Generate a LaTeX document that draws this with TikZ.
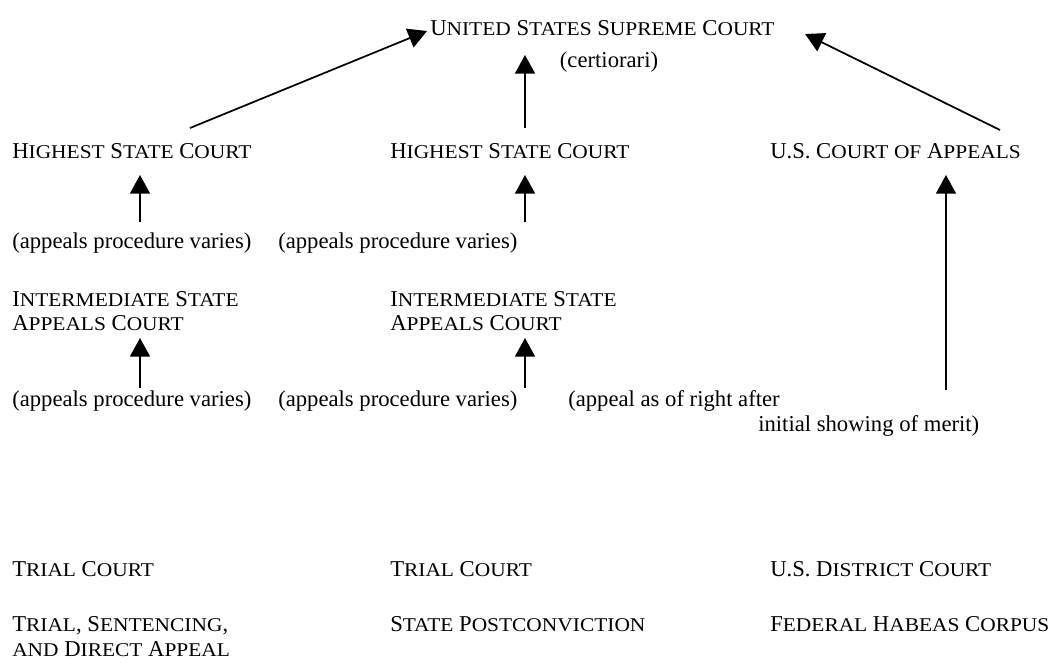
\documentclass[tikz,border=0pt]{standalone}
\usepackage{fontspec}
\setmainfont{Liberation Serif}
\usetikzlibrary{arrows.meta}
\newcommand\smc[1]{\scalebox{1.1}[1]{\fontsize{14.6pt}{14.6pt}\selectfont #1}}
\begin{document}
\begin{tikzpicture}[x=0.75pt,y=-0.75pt,
  lbl/.style={anchor=base west,inner sep=0pt,font=\fontsize{17pt}{25pt}\selectfont},
  arr/.style={line width=1.3pt,-{Triangle[width=15pt,length=14pt]}}]
\useasboundingbox (0,0) rectangle (1054,669);
% top
\node[lbl] (ussc) at (430,35) {U\smc{NITED} S\smc{TATES} S\smc{UPREME} C\smc{OURT}};
\node[lbl,anchor=base] (cert) at (609,67) {(certiorari)};
% row 2
\node[lbl] (hsc1) at (12,158) {H\smc{IGHEST} S\smc{TATE} C\smc{OURT}};
\node[lbl] (hsc2) at (390,158) {H\smc{IGHEST} S\smc{TATE} C\smc{OURT}};
\node[lbl] (usca) at (770,158) {U.S. C\smc{OURT} \smc{OF} A\smc{PPEALS}};
% row 3
\node[lbl] (ap1) at (12,248) {(appeals procedure varies)};
\node[lbl] (ap2) at (278,248) {(appeals procedure varies)};
% row 4
\node[lbl] (isc1) at (12,306) {I\smc{NTERMEDIATE} S\smc{TATE}};
\node[lbl] (isc1b) at (12,330) {A\smc{PPEALS} C\smc{OURT}};
\node[lbl] (isc2) at (390,306) {I\smc{NTERMEDIATE} S\smc{TATE}};
\node[lbl] (isc2b) at (390,330) {A\smc{PPEALS} C\smc{OURT}};
% row 5
\node[lbl] (ap3) at (12,406) {(appeals procedure varies)};
\node[lbl] (ap4) at (278,406) {(appeals procedure varies)};
\node[lbl] (ar1) at (568,406) {(appeal as of right after};
\node[lbl] (ar2) at (758,431) {initial showing of merit)};
% row 6
\node[lbl] (tc1) at (12,576) {T\smc{RIAL} C\smc{OURT}};
\node[lbl] (tc2) at (390,576) {T\smc{RIAL} C\smc{OURT}};
\node[lbl] (dc) at (770,576) {U.S. D\smc{ISTRICT} C\smc{OURT}};
% row 7
\node[lbl] (lab1) at (12,631) {T\smc{RIAL}, S\smc{ENTENCING},};
\node[lbl] (lab1b) at (12,656) {\smc{AND} D\smc{IRECT} A\smc{PPEAL}};
\node[lbl] (lab2) at (390,631) {S\smc{TATE} P\smc{OSTCONVICTION}};
\node[lbl] (lab3) at (770,631) {F\smc{EDERAL} H\smc{ABEAS} C\smc{ORPUS}};
% connector ends
\coordinate (l1s) at (190,128); \coordinate (l1e) at (427,31);
\coordinate (m1s) at (525,128); \coordinate (m1e) at (525,55);
\coordinate (r1s) at (1000,130); \coordinate (r1e) at (805,34);
\coordinate (c1as) at (140,222); \coordinate (c1ae) at (140,175);
\coordinate (c2as) at (525,222); \coordinate (c2ae) at (525,175);
\coordinate (c1bs) at (140,388); \coordinate (c1be) at (140,338);
\coordinate (c2bs) at (525,388); \coordinate (c2be) at (525,338);
\coordinate (c3s) at (946,390); \coordinate (c3e) at (946,175);
\draw[arr] (l1s) -- (l1e);
\draw[arr] (m1s) -- (m1e);
\draw[arr] (r1s) -- (r1e);
\draw[arr] (c1as) -- (c1ae);
\draw[arr] (c2as) -- (c2ae);
\draw[arr] (c1bs) -- (c1be);
\draw[arr] (c2bs) -- (c2be);
\draw[arr] (c3s) -- (c3e);
\end{tikzpicture}
\end{document}
